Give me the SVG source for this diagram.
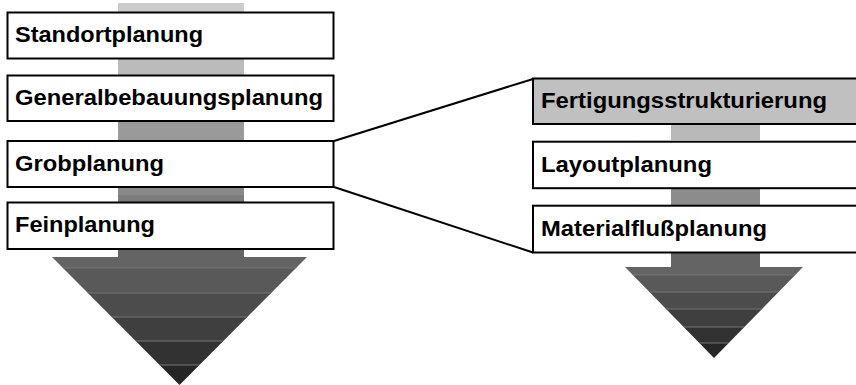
<svg xmlns="http://www.w3.org/2000/svg" width="856" height="385" viewBox="0 0 856 385">
<style>
.box{fill:#ffffff;stroke:#000;stroke-width:2}
.hl{fill:#c0c0c0;stroke:#000;stroke-width:2}
.t{font-family:"Liberation Sans",Arial,sans-serif;font-weight:bold;font-size:22.5px;fill:#000}
.sep{stroke:#747474;stroke-width:1}
.con{stroke:#000;stroke-width:2;fill:none}
</style>
<defs>
<clipPath id="triL"><polygon points="52,257 307,257 179.5,385"/></clipPath>
<clipPath id="triR"><polygon points="625,267 803,267 714,358"/></clipPath>
</defs>
<rect width="856" height="385" fill="#fff"/>
<g id="shaft-left">
<rect x="118" y="3" width="126" height="40" fill="#cccccc"/>
<rect x="118" y="43" width="126" height="57" fill="#bbbbbb"/>
<rect x="118" y="100" width="126" height="65" fill="#9a9a9a"/>
<rect x="118" y="165" width="126" height="30" fill="#888888"/>
<rect x="118" y="195" width="126" height="35" fill="#7c7c7c"/>
<rect x="118" y="230" width="126" height="30" fill="#646464"/>
</g>
<g id="arrow-left" clip-path="url(#triL)">
<rect x="50" y="256" width="260" height="12" fill="#646464"/>
<rect x="50" y="268" width="260" height="25" fill="#595959"/>
<rect x="50" y="293" width="260" height="24" fill="#4c4c4c"/>
<rect x="50" y="317" width="260" height="24" fill="#3f3f3f"/>
<rect x="50" y="341" width="260" height="24" fill="#323232"/>
<rect x="50" y="365" width="260" height="22" fill="#262626"/>
<line class="sep" x1="50" y1="268" x2="310" y2="268"/>
<line class="sep" x1="50" y1="293" x2="310" y2="293"/>
<line class="sep" x1="50" y1="317" x2="310" y2="317"/>
<line class="sep" x1="50" y1="341" x2="310" y2="341"/>
<line class="sep" x1="50" y1="365" x2="310" y2="365"/>
</g>
<g id="shaft-right">
<rect x="671" y="120" width="89" height="20" fill="#b9b9b9"/>
<rect x="671" y="185" width="89" height="25" fill="#8c8c8c"/>
<rect x="671" y="248" width="89" height="20" fill="#646464"/>
</g>
<g id="arrow-right" clip-path="url(#triR)">
<rect x="620" y="266" width="190" height="9" fill="#646464"/>
<rect x="620" y="275" width="190" height="17" fill="#595959"/>
<rect x="620" y="292" width="190" height="17" fill="#4c4c4c"/>
<rect x="620" y="309" width="190" height="18" fill="#3f3f3f"/>
<rect x="620" y="327" width="190" height="16" fill="#323232"/>
<rect x="620" y="343" width="190" height="16" fill="#262626"/>
<line class="sep" x1="620" y1="275" x2="810" y2="275"/>
<line class="sep" x1="620" y1="292" x2="810" y2="292"/>
<line class="sep" x1="620" y1="309" x2="810" y2="309"/>
<line class="sep" x1="620" y1="327" x2="810" y2="327"/>
<line class="sep" x1="620" y1="343" x2="810" y2="343"/>
</g>
<g id="connectors">
<line class="con" x1="334" y1="141" x2="533" y2="79"/>
<line class="con" x1="334" y1="187" x2="533" y2="252.5"/>
</g>
<g id="standortplanung">
<rect class="box" x="7.5" y="12.5" width="326" height="46"/>
<text class="t" x="15" y="42" textLength="188" lengthAdjust="spacingAndGlyphs">Standortplanung</text>
</g>
<g id="generalbebauungsplanung">
<rect class="box" x="7.5" y="75.5" width="326" height="45.5"/>
<text class="t" x="15" y="104.5" textLength="308" lengthAdjust="spacingAndGlyphs">Generalbebauungsplanung</text>
</g>
<g id="grobplanung">
<rect class="box" x="7.5" y="141" width="326" height="46"/>
<text class="t" x="15" y="170.5" textLength="149" lengthAdjust="spacingAndGlyphs">Grobplanung</text>
</g>
<g id="feinplanung">
<rect class="box" x="7.5" y="202.5" width="326" height="46.5"/>
<text class="t" x="15" y="232" textLength="140" lengthAdjust="spacingAndGlyphs">Feinplanung</text>
</g>
<g id="fertigungsstrukturierung">
<rect class="hl" x="533" y="78.5" width="330" height="45.5"/>
<text class="t" x="541" y="107.5" textLength="286" lengthAdjust="spacingAndGlyphs">Fertigungsstrukturierung</text>
</g>
<g id="layoutplanung">
<rect class="box" x="533" y="141.7" width="330" height="46.5"/>
<text class="t" x="541" y="171.5" textLength="171" lengthAdjust="spacingAndGlyphs">Layoutplanung</text>
</g>
<g id="materialflussplanung">
<rect class="box" x="533" y="205.7" width="330" height="46.8"/>
<text class="t" x="541" y="235.5" textLength="226" lengthAdjust="spacingAndGlyphs">Materialflußplanung</text>
</g>
</svg>
